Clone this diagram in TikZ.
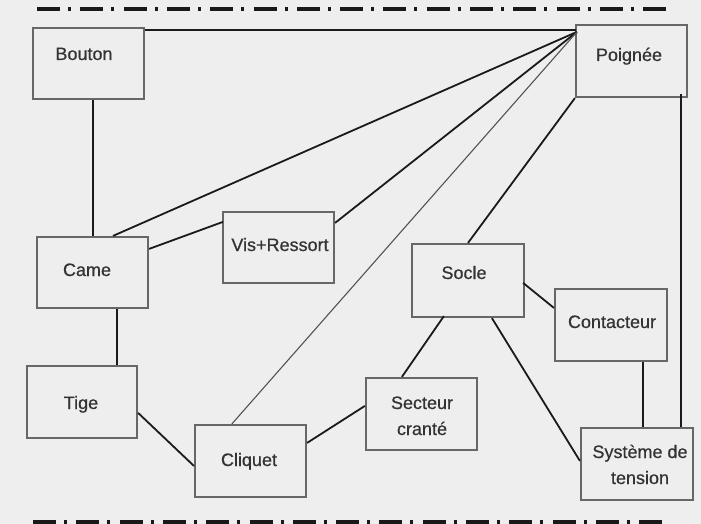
\documentclass[tikz,border=0pt]{standalone}
\usepackage{fontspec}
\setmainfont{Liberation Sans}
\newfontfamily\lblfont[FakeBold=0.6]{Liberation Sans}
\usetikzlibrary{calc}
\definecolor{bg}{HTML}{EEEEEE}
\definecolor{boxline}{HTML}{676767}
\definecolor{wire}{HTML}{1A1A1A}
\definecolor{ink}{HTML}{333333}
\begin{document}
\begin{tikzpicture}[x=1pt,y=-1pt,
  part/.style={draw=boxline,line width=2.2pt,rectangle,inner sep=0pt},
  lbl/.style={text=ink,font=\lblfont\fontsize{18}{26}\selectfont,inner sep=0pt,anchor=base,align=center},
  link/.style={draw=wire,line width=1.8pt},
  thinlink/.style={draw=wire!75,line width=1.1pt},
  rule/.style={draw=black!90,line width=4pt,dash pattern=on 23pt off 8pt on 3pt off 9.3pt}]
  \useasboundingbox (0,0) rectangle (701,524);
  \fill[bg] (0,0) rectangle (701,524);

  % frame rules
  \draw[rule] (37,9.5) -- (668,9.5);
  \draw[rule] (33,522) -- (664,522);

  % parts
  \node[part,minimum width=111pt,minimum height=71pt] (bouton) at (88.5,63.5) {};
  \node[part,minimum width=111pt,minimum height=72pt] (poignee) at (631.5,61) {};
  \node[part,minimum width=111pt,minimum height=71pt] (came) at (92.5,272.5) {};
  \node[part,minimum width=111pt,minimum height=71pt] (vis) at (278.5,247.5) {};
  \node[part,minimum width=112pt,minimum height=73pt] (socle) at (468,280.5) {};
  \node[part,minimum width=112pt,minimum height=72pt] (contacteur) at (611,325) {};
  \node[part,minimum width=110pt,minimum height=72pt] (tige) at (82,402) {};
  \node[part,minimum width=111pt,minimum height=72pt] (secteur) at (421.5,414) {};
  \node[part,minimum width=111pt,minimum height=72pt] (cliquet) at (250.5,461) {};
  \node[part,minimum width=112pt,minimum height=72pt] (systeme) at (637,464) {};

  % labels
  \node[lbl] (bouton-t) at (84,60) {Bouton};
  \node[lbl] (poignee-t) at (629,61) {Poignée};
  \node[lbl] (came-t) at (87,276) {Came};
  \node[lbl] (vis-t) at (280,251) {Vis+Ressort};
  \node[lbl] (socle-t) at (464,279) {Socle};
  \node[lbl] (contacteur-t) at (612,328) {Contacteur};
  \node[lbl] (tige-t) at (81,409) {Tige};
  \node[lbl] (secteur-t) at (422,435) {Secteur\\cranté};
  \node[lbl] (cliquet-t) at (249,466) {Cliquet};
  \node[lbl] (systeme-t) at (640,484) {Système de\\tension};

  % attachment points
  \coordinate (pg) at ($(poignee.north west)+(2,8)$);
  \coordinate (came-up) at ($(came.north)+(0.5,0)$);
  \coordinate (came-down) at ($(came.south)+(24.5,0)$);
  \coordinate (cont-down) at ($(contacteur.south)+(32,0)$);
  \coordinate (poig-down) at ($(poignee.south east)+(-7,-4)$);

  % links
  \draw[link] ($(bouton.north east)+(0,3.5)$) -- ($(poignee.north west)+(1,6.5)$);
  \draw[link] (came-up) -- (came-up |- bouton.south);
  \draw[link] ($(came.north)+(20.5,0)$) -- (pg);
  \draw[link] ($(came.north east)+(0,13)$) -- ($(vis.north west)+(1,11)$);
  \draw[link] ($(vis.north east)+(0,12)$) -- (pg);
  \draw[link] (came-down) -- (came-down |- tige.north);
  \draw[link] ($(tige.north east)+(0,48)$) -- ($(cliquet.north west)+(0,42)$);
  \draw[thinlink] ($(cliquet.north west)+(38,0)$) -- (pg);
  \draw[link] ($(cliquet.north east)+(0,19)$) -- ($(secteur.north west)+(0,29)$);
  \draw[link] ($(secteur.north west)+(37,0)$) -- ($(socle.south west)+(33,-2)$);
  \draw[link] (socle.north) -- (poignee.south west);
  \draw[link] ($(socle.north east)+(-2,40)$) -- ($(contacteur.north west)+(0,20)$);
  \draw[link] ($(socle.south west)+(81,0)$) -- ($(systeme.north west)+(0,34)$);
  \draw[link] (cont-down) -- (cont-down |- systeme.north);
  \draw[link] (poig-down) -- (poig-down |- systeme.north);
\end{tikzpicture}
\end{document}
